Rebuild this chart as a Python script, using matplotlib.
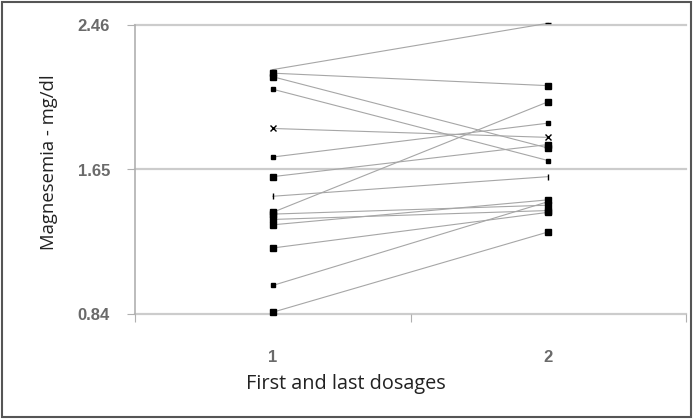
import matplotlib.pyplot as plt
from matplotlib.patches import Rectangle

# Magnesemia per patient, first and last dosage (mg/dl)
first_dosage = [2.21, 2.19, 2.17, 2.10, 1.88, 1.72, 1.61, 1.50,
                1.41, 1.40, 1.37, 1.34, 1.21, 1.00, 0.85]
last_dosage = [2.47, 2.12, 1.77, 1.70, 1.83, 1.91, 1.79, 1.61,
               2.03, 1.45, 1.42, 1.48, 1.41, 1.47, 1.30]

x_labels = ['1', '2']
y_ticks = [0.84, 1.65, 2.46]

# marker style per patient (as drawn in the original: squares, small dashes)
markers = ['_', 's', 's', 's', 'x', 's', 's', '|',
           's', 's', 's', 's', 's', 's', 's']
msizes = [4, 4.5, 4, 3, 4, 3.5, 4, 4, 4, 4, 4, 4, 4, 3, 4]

fig = plt.figure(figsize=(6.93, 4.19), dpi=100)
ax = fig.add_axes([135 / 693, 105 / 419, 551 / 693, 289 / 419])

# gridlines
for yv in y_ticks:
    ax.axhline(yv, color='#cccccc', lw=1.6, zorder=0, clip_on=False)

for a, b, m, ms in zip(first_dosage, last_dosage, markers, msizes):
    ax.plot([1, 2], [a, b], color='#a6a6a6', lw=0.8, zorder=2, clip_on=False)
    ax.plot([1, 2], [a, b], ls='none', marker=m, ms=ms, color='black',
            mec='black', mew=1.0, zorder=3, clip_on=False)

ax.set_xlim(0.5, 2.5)
ax.set_ylim(0.84, 2.46)

for side in ['top', 'right', 'bottom']:
    ax.spines[side].set_visible(False)
ax.spines['left'].set_color('#b0b0b0')
ax.spines['left'].set_linewidth(1.2)

ax.set_yticks(y_ticks)
ax.set_yticklabels(['0.84', '1.65', '2.46'], fontfamily='Liberation Sans',
                   fontsize=12, fontweight='bold', color='#6a6a6a')
ax.tick_params(axis='y', length=6, color='#b0b0b0', pad=12)

ax.set_xticks([0.5, 1.5, 2.5])
ax.set_xticklabels([])
ax.tick_params(axis='x', length=6, color='#b0b0b0', direction='out')
for xv, lab in zip([1, 2], x_labels):
    ax.text(xv, -43 / 289, lab, transform=ax.get_xaxis_transform(),
            ha='center', va='center', fontfamily='Liberation Sans',
            fontsize=12, fontweight='bold', color='#6a6a6a')

fig.text(346 / 693, 1 - 384 / 419, 'First and last dosages', ha='center',
         va='center', fontfamily='Open Sans', fontsize=14.3, color='#222222')
fig.text(49 / 693, 1 - 162 / 419, 'Magnesemia - mg/dl', ha='center',
         va='center', rotation=90, fontfamily='Open Sans', fontsize=13.3,
         color='#222222')

# outer frame
fig.patches.append(Rectangle((0.003, 0.004), 0.994, 0.992, fill=False,
                             transform=fig.transFigure, ec='#555555', lw=1.5))

plt.savefig('out.png', dpi=100)
